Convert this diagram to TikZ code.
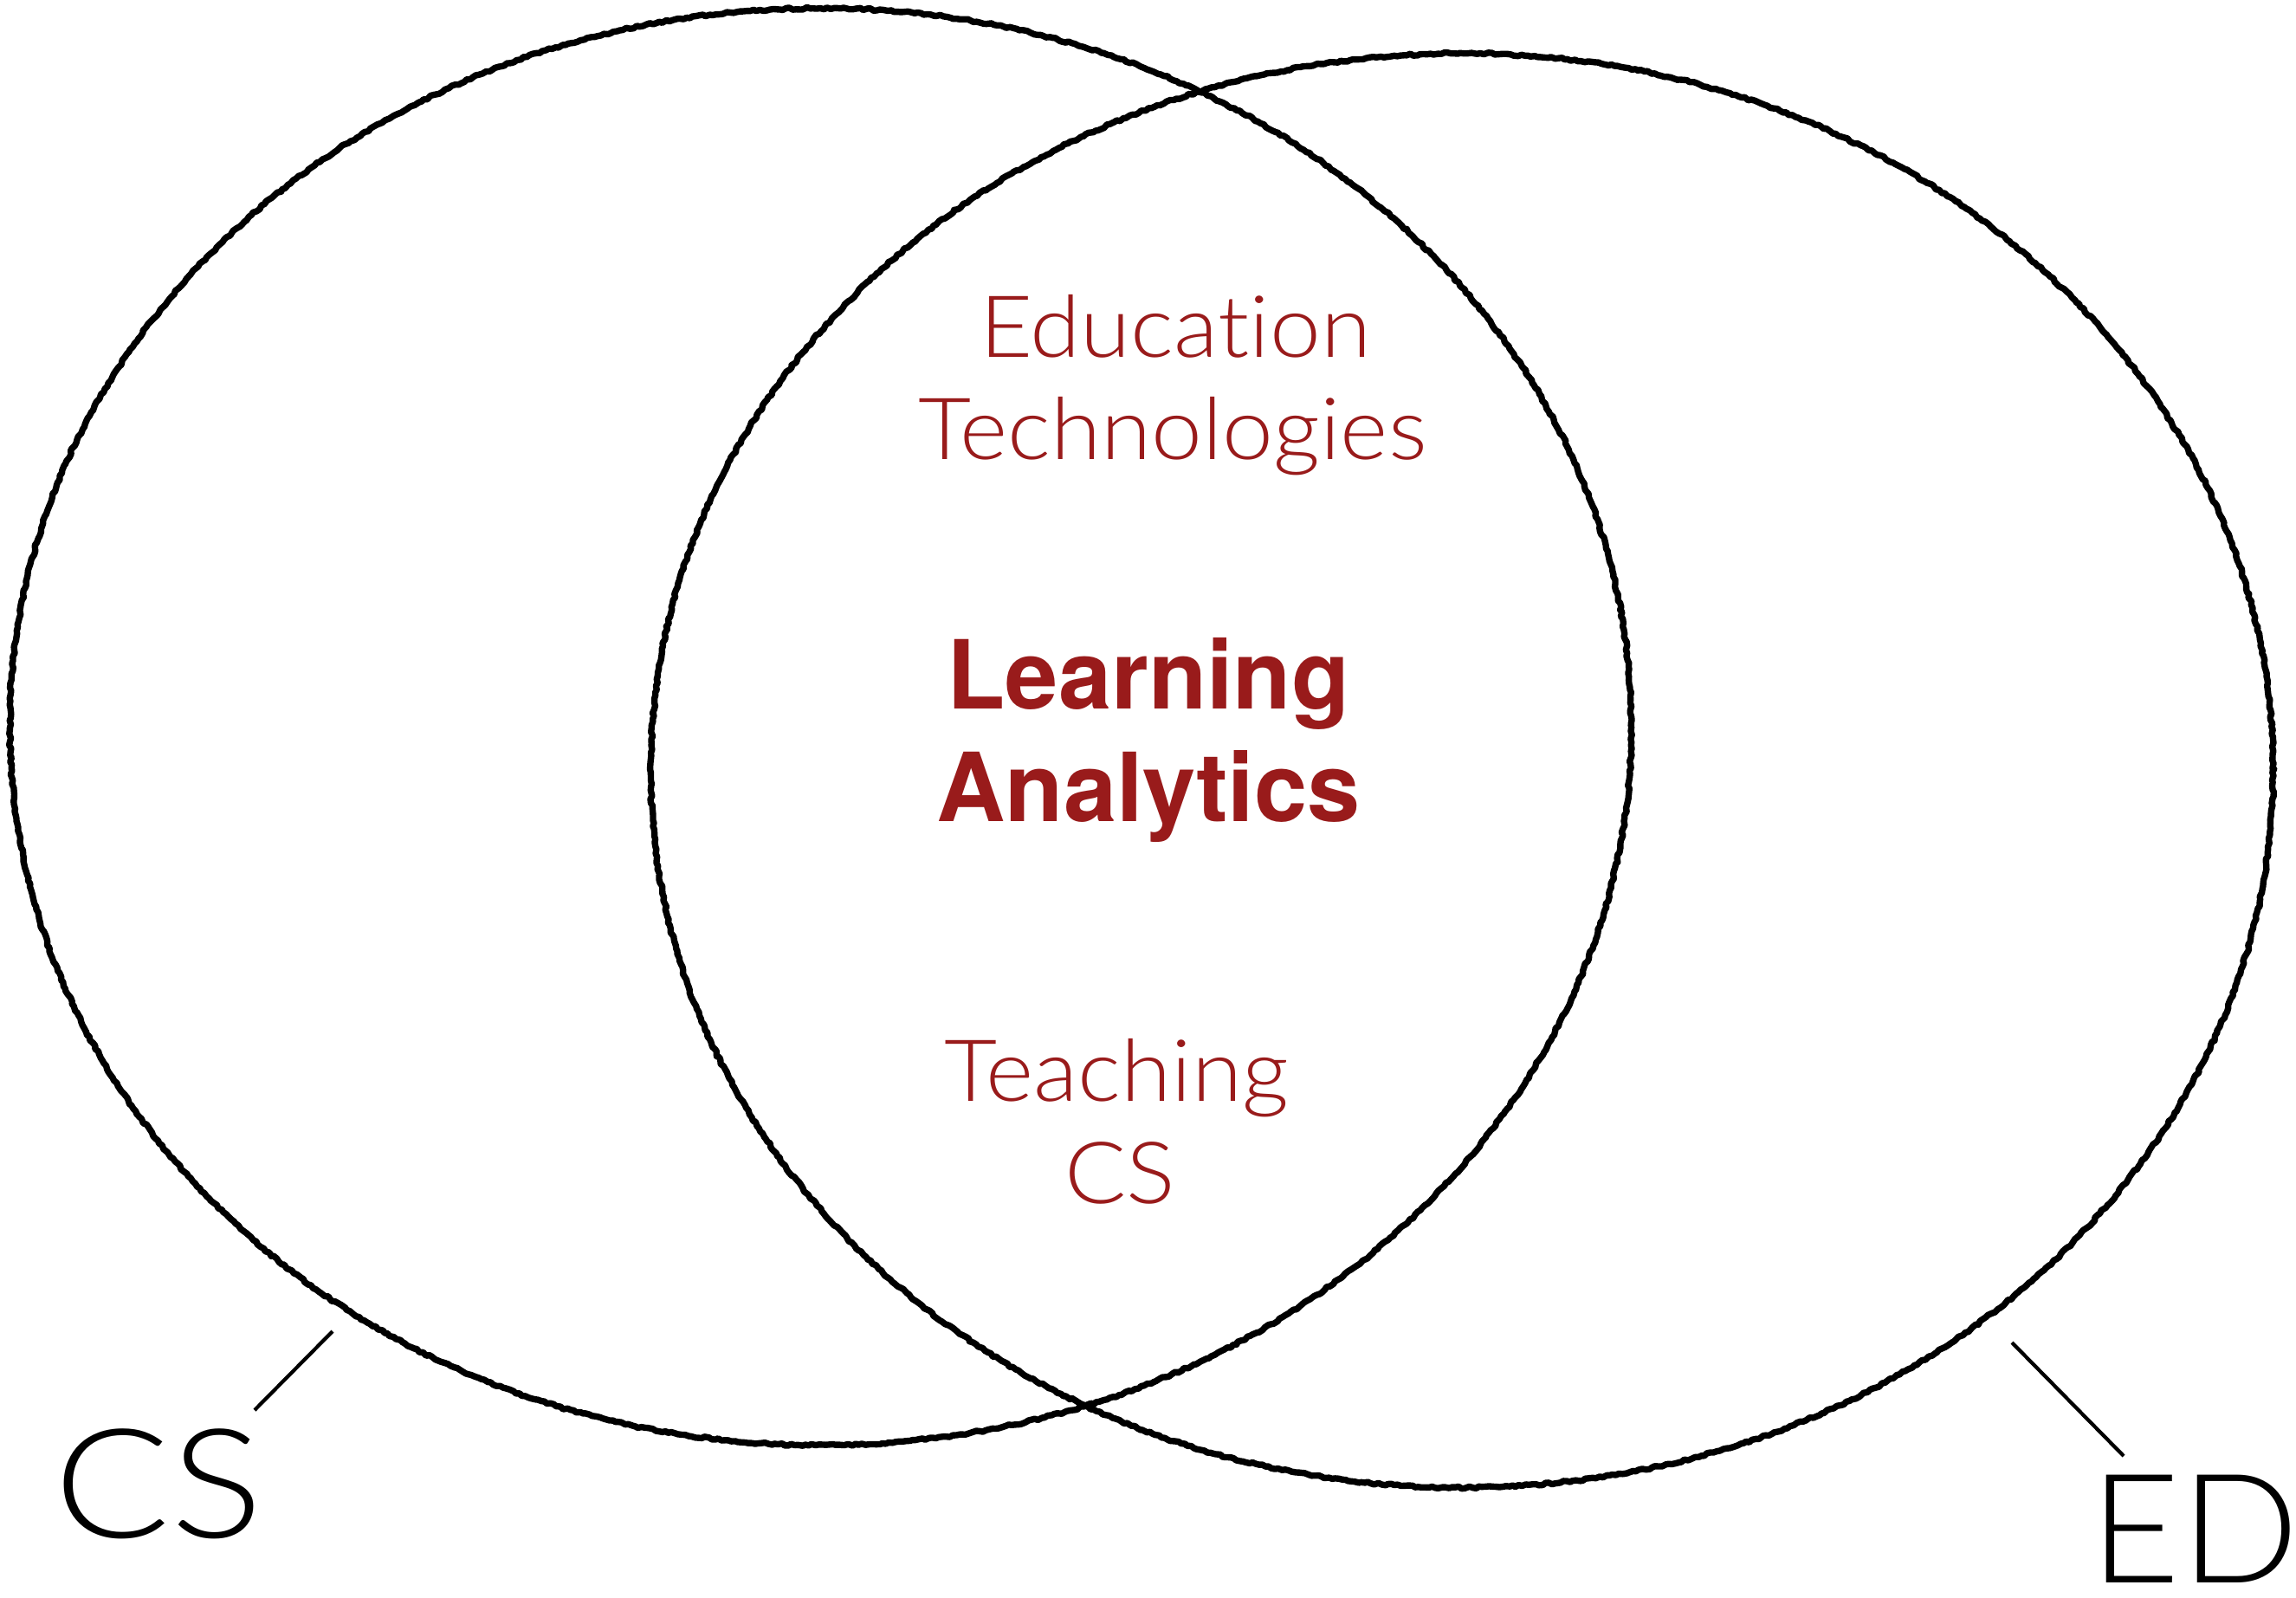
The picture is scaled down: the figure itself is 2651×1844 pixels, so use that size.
\documentclass[tikz,border=0pt]{standalone}
\usepackage{fontspec}
\usetikzlibrary{decorations.pathmorphing}
\newfontfamily\lightfont{Lato Light}[FakeStretch=1.065, Ligatures=NoCommon, RawFeature={-liga;-dlig}]
\newfontfamily\cslabelfont{Lato Light}[FakeStretch=1.13]
\newfontfamily\edlabelfont{Lato Light}[FakeStretch=1.02]
\newfontfamily\herosfont{TeX Gyre Heros}
\definecolor{lared}{RGB}{153,27,27}
\tikzset{
  setline/.style={draw=black, line width=2.1pt, line join=round,
    decorate, decoration={random steps, segment length=1.1pt, amplitude=0.35pt}},
  tickline/.style={draw=black, line width=1.2pt},
  lighttext/.style={text=lared, inner sep=0pt, anchor=base,
    font=\lightfont\fontsize{28.2pt}{34pt}\selectfont},
  boldtext/.style={text=lared, inner sep=0pt, anchor=base,
    font=\herosfont\bfseries\fontsize{31.3pt}{37pt}\selectfont},
  setlabel/.style={text=black, inner sep=0pt, text depth=0pt}
}
\begin{document}
\begin{tikzpicture}[x=0.01cm, y=-0.01cm]
\pgfmathsetseed{7}
\useasboundingbox (0,0) rectangle (2651,1844);

% the two sets
\draw[setline] (947.5,839) ellipse [x radius=9.355cm, y radius=8.29cm];
\draw[setline] (1688,889.5) ellipse [x radius=9.36cm, y radius=8.275cm];

% texts in the overlap
\node[lighttext] (edu1) at (1357,412) {Education};
\node[lighttext] (edu2) at (1354,530) {Technologies};
\node[boldtext] (la1) at (1326,818) {Learning};
\node[boldtext] (la2) at (1326,948) {Analytics};
\node[lighttext] (tcs1) at (1289,1271) {Teaching};
\node[lighttext] (tcs2) at (1293,1389) {CS};

% set labels with their pointers
\node[setlabel, anchor=base, font=\cslabelfont\fontsize{50pt}{60pt}\selectfont]
  (cslabel) at (183,1775) {CS};
\node[setlabel, anchor=base east, font=\edlabelfont\fontsize{50pt}{60pt}\selectfont]
  (edlabel) at (2655,1827) {ED};
\coordinate (csa) at (384,1537);
\coordinate (csb) at (294,1628);
\coordinate (eda) at (2323,1550);
\coordinate (edb) at (2452,1681);
\draw[tickline] (csa) -- (csb);
\draw[tickline] (eda) -- (edb);
\end{tikzpicture}
\end{document}
